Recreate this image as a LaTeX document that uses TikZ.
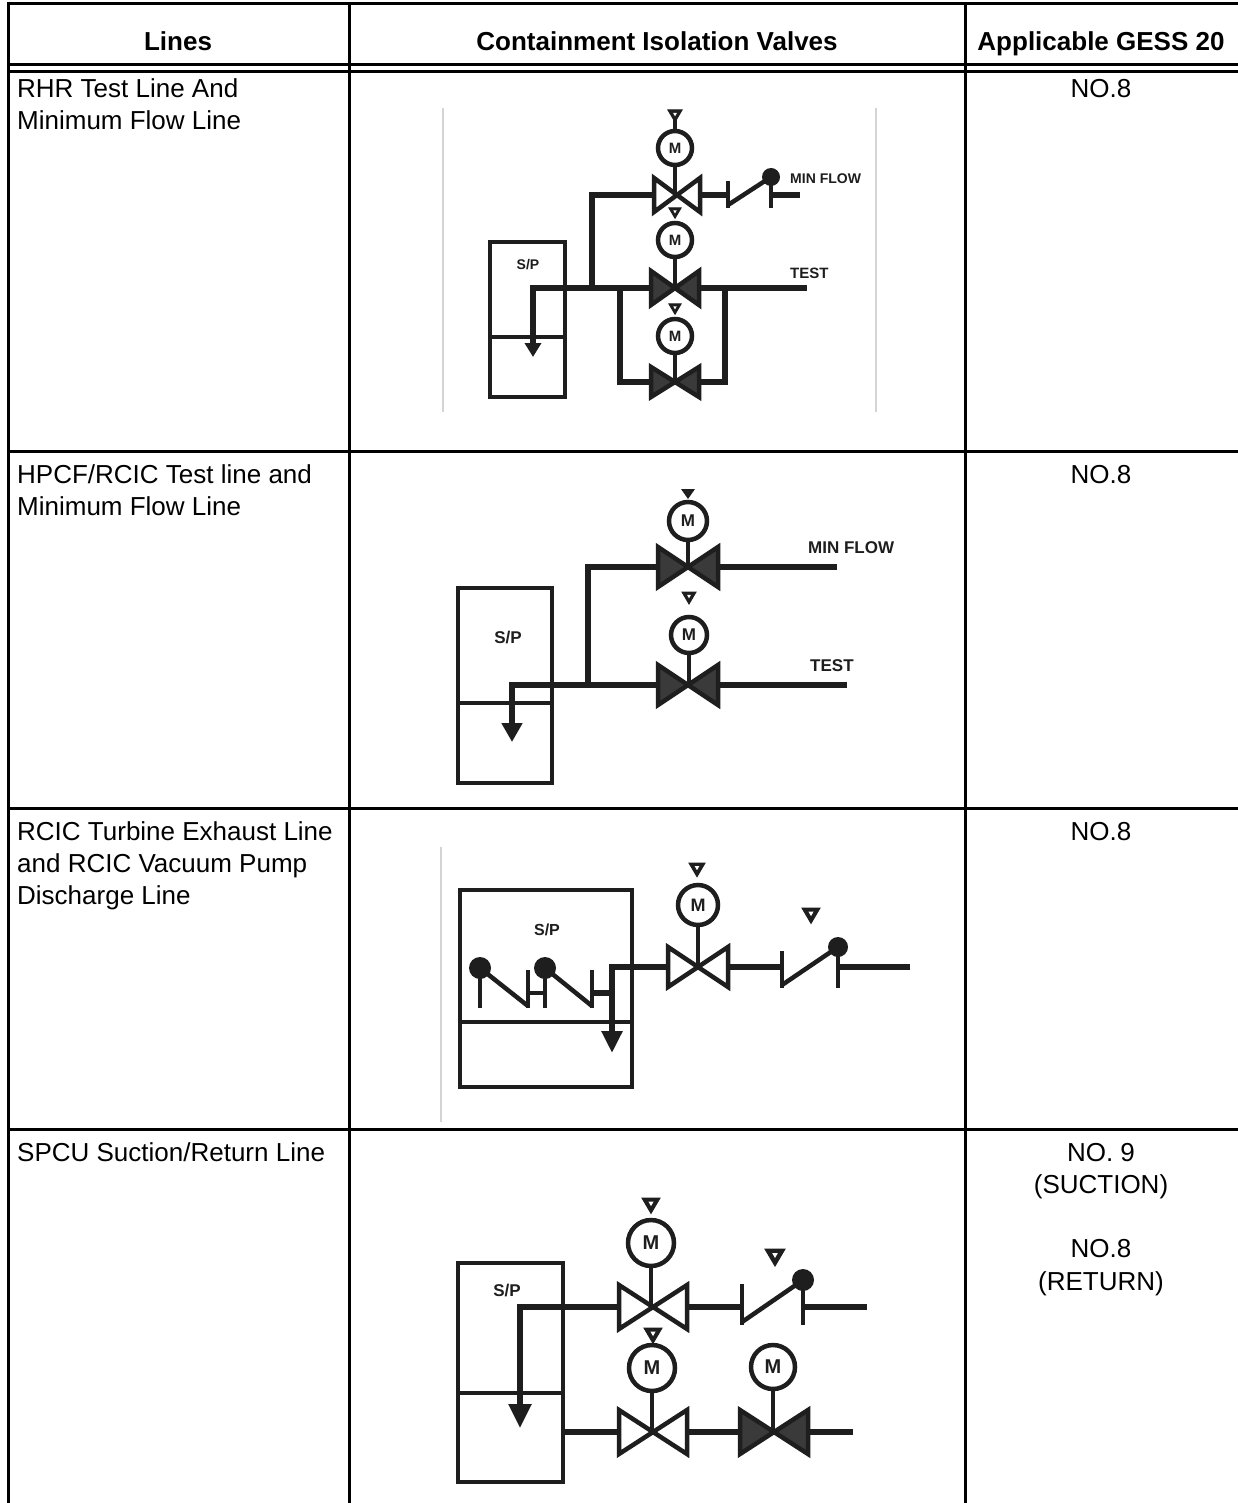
\documentclass[tikz,border=0pt]{standalone}
\usepackage{fontspec}
\setmainfont{Liberation Sans}
\usetikzlibrary{arrows.meta}
\definecolor{ink}{HTML}{1E1E1E}
\definecolor{vfill}{HTML}{3A3A3A}
\definecolor{scan}{HTML}{D4D4D4}
\tikzset{
  pipe/.style={line width=5.5pt, draw=ink, line join=miter},
  tline/.style={line width=3pt, draw=black, line cap=rect},
  vbody/.style={line width=4.5pt, draw=ink, line join=miter},
  boxline/.style={line width=4.5pt, draw=ink, line join=miter},
  motorc/.style={line width=4.5pt, draw=ink, fill=white},
  tri/.style={line width=1pt, draw=ink, fill=ink, line join=miter},
  scanedge/.style={line width=1.5pt, draw=scan},
  cell/.style={font=\fontsize{26}{32}\selectfont, inner sep=0pt, anchor=base west},
  cellc/.style={font=\fontsize{26}{32}\selectfont, inner sep=0pt, anchor=base},
  head/.style={font=\bfseries\fontsize{26}{32}\selectfont, inner sep=0pt, anchor=base},
  dlab/.style={inner sep=0pt, text=ink, anchor=base west},
  splab/.style={inner sep=0pt, text=ink},
}
% bowtie gate valve: x y halfwidth halfheight fill
\newcommand{\vvalve}[5]{\filldraw[vbody, fill=#5] ({#1-#3},{#2-#4}) -- ({#1-#3},{#2+#4}) -- ({#1+#3},{#2-#4}) -- ({#1+#3},{#2+#4}) -- cycle;}
% motor: x y r valve-y fontsize
\newcommand{\vmotor}[5]{%
  \draw[vbody] (#1,{#2+#3}) -- (#1,#4);
  \draw[motorc] (#1,#2) circle[radius=#3pt];
  \node[inner sep=0pt, text=ink, font=\bfseries\fontsize{#5}{#5}\selectfont] at (#1,#2) {M};}
% small inverted triangle with small hole: x top size
\newcommand{\vtri}[3]{%
  \filldraw[tri] ({#1-#3/2},#2) -- ({#1+#3/2},#2) -- (#1,{#2+#3*0.85}) -- cycle;
  \fill[white] ({#1-#3/7},{#2+#3*0.2}) -- ({#1+#3/7},{#2+#3*0.2}) -- (#1,{#2+#3*0.45}) -- cycle;}
% check valve: xL xR balltop bottom ballradius
\newcommand{\vcheck}[5]{%
  \draw[vbody] (#1,{#3+4}) -- (#1,#4);
  \draw[vbody] (#1,{#4-3}) -- (#2,#3);
  \draw[vbody] (#2,#3) -- (#2,#4);
  \fill[ink] (#2,#3) circle[radius=#5pt];}
\begin{document}
\begin{tikzpicture}[x=1pt,y=-1pt]
\useasboundingbox (0,0) rectangle (1238,1503);
\fill[white] (0,0) rectangle (1238,1503);

% ---------- table ----------
\draw[tline] (8.5,4) -- (1245,4);
\draw[tline] (8.5,65) -- (1245,65);
\draw[tline] (8.5,72) -- (1245,72);
\draw[tline] (8.5,451) -- (1245,451);
\draw[tline] (8.5,808) -- (1245,808);
\draw[tline] (8.5,1129) -- (1245,1129);
\draw[tline] (8.5,4) -- (8.5,1510);
\draw[tline] (349,4) -- (349,1510);
\draw[tline] (965,4) -- (965,1510);

\node[head] (h1) at (178,51) {Lines};
\node[head] (h2) at (657,51) {Containment Isolation Valves};
\node[head] (h3) at (1101,51) {Applicable GESS 20};

\node[cell] (r1a) at (17,98) {RHR Test Line And};
\node[cell] (r1b) at (17,130) {Minimum Flow Line};
\node[cell] (r2a) at (17,483) {HPCF/RCIC Test line and};
\node[cell] (r2b) at (17,515) {Minimum Flow Line};
\node[cell] (r3a) at (17,840) {RCIC Turbine Exhaust Line};
\node[cell] (r3b) at (17,872) {and RCIC Vacuum Pump};
\node[cell] (r3c) at (17,904) {Discharge Line};
\node[cell] (r4a) at (17,1161) {SPCU Suction/Return Line};

\node[cellc] (g1) at (1101,98) {NO.8};
\node[cellc] (g2) at (1101,483) {NO.8};
\node[cellc] (g3) at (1101,840) {NO.8};
\node[cellc] (g4a) at (1101,1161) {NO. 9};
\node[cellc] (g4b) at (1101,1193) {(SUCTION)};
\node[cellc] (g4c) at (1101,1257) {NO.8};
\node[cellc] (g4d) at (1101,1290) {(RETURN)};

% ---------- diagram 1 ----------
\draw[scanedge] (443,108) -- (443,412);
\draw[scanedge] (876,108) -- (876,412);
\draw[boxline] (490,242) rectangle (565,397);
\draw[boxline] (490,337) -- (565,337);
\node[splab, font=\bfseries\fontsize{14}{14}\selectfont] (sp1) at (528,265) {S/P};
\draw[pipe,{Triangle[width=16pt,length=14pt]}-] (533,357) -- (533,288) -- (651,288);
\draw[pipe] (699,288) -- (807,288);
\draw[pipe] (592,288) -- (592,195) -- (654,195);
\draw[pipe] (700,195) -- (728,195);
\draw[pipe] (771,195) -- (800,195);
\draw[pipe] (620,288) -- (620,382) -- (651,382);
\draw[pipe] (699,382) -- (725,382) -- (725,288);
\vvalve{677}{195}{23}{17}{white}
\vvalve{675}{288}{24}{17}{vfill}
\vvalve{675}{382}{24}{15}{vfill}
\vmotor{675}{148}{17}{195}{15}
\vmotor{675}{240}{17}{288}{15}
\vmotor{675}{336}{17}{382}{15}
\draw[vbody] (675,120) -- (675,131);
\vtri{675}{110}{14}
\vtri{675}{208}{12}
\vtri{675}{304}{12}
\vcheck{728}{771}{177}{208}{9}
\node[dlab, font=\bfseries\fontsize{14}{14}\selectfont] (mf1) at (790,184) {MIN FLOW};
\node[dlab, font=\bfseries\fontsize{15}{15}\selectfont] (ts1) at (790,279) {TEST};

% ---------- diagram 2 ----------
\draw[boxline] (458,588) rectangle (552,783);
\draw[boxline] (458,703) -- (552,703);
\node[splab, font=\bfseries\fontsize{17}{17}\selectfont] (sp2) at (508,638) {S/P};
\draw[pipe,{Triangle[width=20pt,length=19pt]}-] (512,742) -- (512,685) -- (658,685);
\draw[pipe] (718,685) -- (847,685);
\draw[pipe] (588,685) -- (588,567) -- (658,567);
\draw[pipe] (718,567) -- (837,567);
\vvalve{688}{567}{30}{20}{vfill}
\vvalve{688}{685}{30}{20}{vfill}
\vmotor{688}{521}{19}{567}{17}
\vmotor{689}{635}{18}{685}{17}
\fill[ink] (681,489) -- (695,489) -- (688,499) -- cycle;
\vtri{689}{592}{14}
\node[dlab, font=\bfseries\fontsize{17}{17}\selectfont] (mf2) at (808,553) {MIN FLOW};
\node[dlab, font=\bfseries\fontsize{17}{17}\selectfont] (ts2) at (810,671) {TEST};

% ---------- diagram 3 ----------
\draw[scanedge] (441,847) -- (441,1122);
\draw[boxline] (460,890) rectangle (632,1087);
\draw[boxline] (460,1022) -- (632,1022);
\node[splab, font=\bfseries\fontsize{16}{16}\selectfont] (sp3) at (547,930) {S/P};
\fill[ink] (480,968) circle[radius=11pt];
\draw[vbody] (480,968) -- (480,1008);
\draw[vbody] (480,968) -- (528,1006);
\draw[vbody] (528,970) -- (528,1008);
\draw[vbody] (528,993) -- (545,993);
\fill[ink] (545,968) circle[radius=11pt];
\draw[vbody] (545,968) -- (545,1008);
\draw[vbody] (545,968) -- (592,1006);
\draw[vbody] (592,970) -- (592,1008);
\draw[pipe] (592,993) -- (612,993);
\draw[pipe,{Triangle[width=20pt,length=22pt]}-] (612,1053) -- (612,967) -- (668,967);
\draw[pipe] (728,967) -- (782,967);
\draw[pipe] (838,967) -- (910,967);
\vvalve{698}{967}{30}{20}{white}
\vmotor{698}{905}{20}{967}{18}
\vtri{697}{863}{16}
\vcheck{782}{838}{947}{988}{10}
\vtri{811}{908}{18}

% ---------- diagram 4 ----------
\draw[boxline] (458,1263) rectangle (563,1482);
\draw[boxline] (458,1393) -- (563,1393);
\node[splab, font=\bfseries\fontsize{17}{17}\selectfont] (sp4) at (507,1290) {S/P};
\draw[pipe,{Triangle[width=22pt,length=24pt]}-] (520,1428) -- (520,1307) -- (619,1307);
\draw[pipe] (687,1307) -- (742,1307);
\draw[pipe] (803,1307) -- (867,1307);
\draw[pipe] (563,1432) -- (619,1432);
\draw[pipe] (687,1432) -- (740,1432);
\draw[pipe] (808,1432) -- (853,1432);
\vvalve{653}{1307}{34}{22}{white}
\vvalve{653}{1432}{34}{22}{white}
\vvalve{774}{1432}{34}{22}{vfill}
\vmotor{651}{1243}{23}{1307}{20}
\vmotor{652}{1368}{23}{1432}{20}
\vmotor{773}{1367}{22}{1432}{20}
\vtri{651}{1198}{18}
\vtri{653}{1328}{18}
\vcheck{742}{803}{1280}{1325}{11}
\vtri{775}{1249}{20}
\end{tikzpicture}
\end{document}
